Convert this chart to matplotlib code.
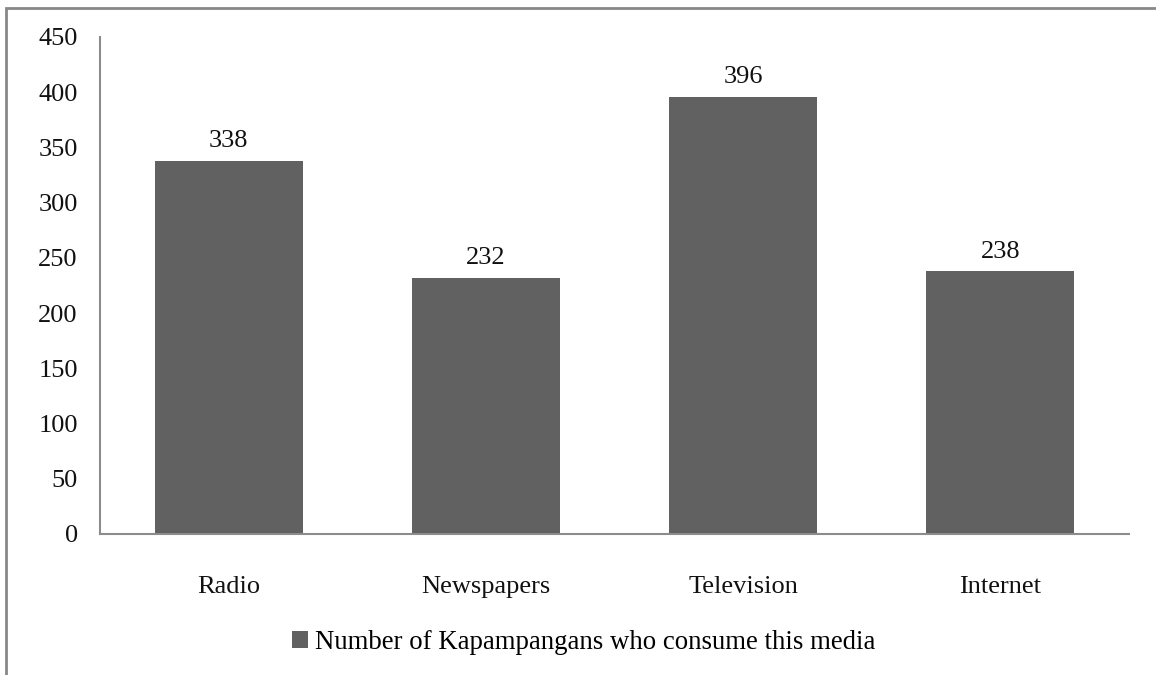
import matplotlib
matplotlib.use("Agg")
import matplotlib.pyplot as plt
from matplotlib.patches import Rectangle

categories = ["Radio", "Newspapers", "Television", "Internet"]
values = [338, 232, 396, 238]
series_name = "Number of Kapampangans who consume this media"
yticks = [0, 50, 100, 150, 200, 250, 300, 350, 400, 450]

plt.rcParams["font.family"] = ["Liberation Serif", "DejaVu Serif"]

fig = plt.figure(figsize=(11.56, 6.75), dpi=100)
ax = fig.add_axes([0.0865, 0.2089, 0.8901, 0.7363])

bar_color = "#616161"
bars = ax.bar(range(len(categories)), values, width=0.575, color=bar_color,
              label=series_name, zorder=2)

for b, v in zip(bars, values):
    ax.annotate(str(v), (b.get_x() + b.get_width() / 2, v),
                xytext=(0, 6), textcoords="offset points",
                ha="center", va="bottom", fontsize=19, color="#111111")

ax.set_xlim(-0.5, len(categories) - 0.5)
ax.set_ylim(0, 450)
ax.set_yticks(yticks)
ax.set_xticks(range(len(categories)))
ax.set_xticklabels(categories)
ax.tick_params(axis="both", length=0, labelsize=19, colors="#111111")
ax.tick_params(axis="y", pad=16)
ax.tick_params(axis="x", pad=30)

for s in ["top", "right"]:
    ax.spines[s].set_visible(False)
for s in ["left", "bottom"]:
    ax.spines[s].set_color("#8c8c8c")
    ax.spines[s].set_linewidth(1.5)

leg = fig.legend(handles=[bars], labels=[series_name], loc="center",
                 bbox_to_anchor=(0.505, 0.048), frameon=False, fontsize=19.3,
                 handlelength=0.6, handleheight=0.6, handletextpad=0.25)

# outer chart frame
fig.patches.append(Rectangle((6 / 1156, -0.1), 1.2, 1.1 - 8 / 675,
                             transform=fig.transFigure, fill=False,
                             edgecolor="#888888", linewidth=2))

fig.savefig("out.png", dpi=100)
